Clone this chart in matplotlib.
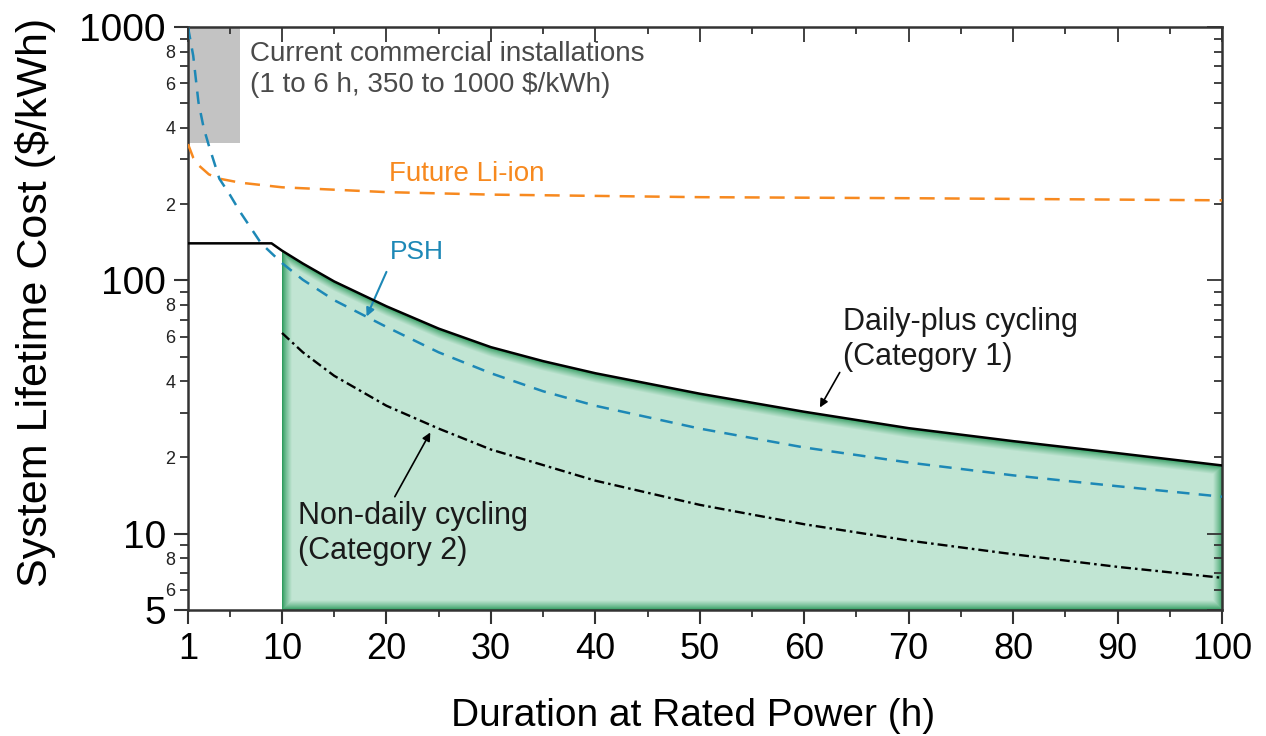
import numpy as np
import matplotlib
matplotlib.use("Agg")
import matplotlib.pyplot as plt
from matplotlib.patches import Polygon, Rectangle

plt.rcParams["font.family"] = ["Liberation Sans", "DejaVu Sans"]

# ---- data
cat1_x = [1, 9, 10, 12, 15, 20, 25, 30, 35, 40, 50, 60, 70, 80, 90, 100]
cat1_y = [140, 140, 131, 116.5, 99, 79, 64.5, 54.5, 48, 43, 35.7, 30.3, 26.1, 23.2, 20.8, 18.6]

psh_x = [1, 1.5, 2, 2.5, 3, 4, 5, 6, 8, 10, 12, 15, 20, 25, 30, 35, 40, 50, 60, 70, 80, 90, 100]
psh_y = [1000, 770, 505, 400, 340, 252, 218, 186, 140, 117, 100.5, 83.5, 65.5, 52, 43, 36.5,
         32, 26, 21.9, 19.1, 17.0, 15.4, 14.0]

liion_x = [1, 1.5, 2, 3, 4, 6, 10, 20, 30, 50, 70, 100]
liion_y = [345, 305, 285, 262, 252, 243, 233, 223, 218, 213, 211, 207]

cat2_x = [10, 12, 15, 20, 25, 30, 40, 50, 60, 70, 80, 90, 100]
cat2_y = [62, 52, 42, 32, 26, 21.5, 16.2, 13.0, 10.9, 9.4, 8.3, 7.4, 6.7]

current_hours = (1, 6)
current_cost = (350, 1000)

x_major = [1, 10, 20, 30, 40, 50, 60, 70, 80, 90, 100]
x_minor = [5, 15, 25, 35, 45, 55, 65, 75, 85, 95]
y_major = [5, 10, 100, 1000]
y_minor = [6, 7, 8, 9, 20, 30, 40, 50, 60, 70, 80, 90, 200, 300, 400, 500, 600, 700, 800, 900]
y_minor_labels = ["6", "", "8", "", "2", "", "4", "", "6", "", "8", "",
                  "2", "", "4", "", "6", "", "8", ""]

BLUE, ORANGE, GREY_TXT = "#1d88b6", "#f7891f", "#4a4a4a"
GREEN_DARK, GREEN_LIGHT = np.array([0.12, 0.58, 0.32]), np.array([0.76, 0.90, 0.83])
SPINE = "#333333"

fig = plt.figure(figsize=(12.66, 7.36), dpi=100)
ax = fig.add_axes([188 / 1266, 1 - 610 / 736, (1222 - 188) / 1266, (610 - 27) / 736])
ax.set_yscale("log")
ax.set_xlim(1, 100)
ax.set_ylim(5, 1000)
ax.set_autoscale_on(False)

# ---- shaded region (x >= 10 under the category-1 curve) with darker feathered edges
fx = [x for x in cat1_x if x >= 10]
fy = [y for x, y in zip(cat1_x, cat1_y) if x >= 10]
verts = [(10, 5)] + list(zip(fx, fy)) + [(100, 5)]
curve_d = ax.transData.transform(list(zip(fx, fy)))
x0, y0 = ax.transData.transform((10, 5))
x1 = ax.transData.transform((100, 5))[0]
y1 = curve_d[:, 1].max()
nx, ny = int(x1 - x0) + 1, int(y1 - y0) + 1
px = x0 + np.arange(nx) + 0.5
py = y0 + np.arange(ny) + 0.5
top = np.interp(px, curve_d[:, 0], curve_d[:, 1])
PX, PY = np.meshgrid(px, py)
d = np.minimum.reduce([PX - x0, x1 - PX, PY - y0, top[None, :] - PY])
t = np.clip(d / 10.0, 0, 1) ** 0.75
rgb = GREEN_DARK + (GREEN_LIGHT - GREEN_DARK) * t[..., None]
inv = ax.transAxes.inverted()
(a0, b0), (a1, b1) = inv.transform([(x0, y0), (x0 + nx, y0 + ny)])
im = ax.imshow(rgb, extent=(a0, a1, b0, b1), transform=ax.transAxes, origin="lower",
               aspect="auto", interpolation="bilinear", zorder=1)
clip = Polygon(verts, closed=True, transform=ax.transData, facecolor="none", edgecolor="none")
ax.add_patch(clip)
im.set_clip_path(clip)

# ---- current commercial installations box
ax.add_patch(Rectangle((current_hours[0], current_cost[0]), current_hours[1] - current_hours[0],
                       current_cost[1] - current_cost[0], facecolor="#c3c3c3",
                       edgecolor="none", zorder=1))

# ---- curves
ax.plot(liion_x, liion_y, color=ORANGE, lw=1.8, dashes=(6, 4), zorder=3)
ax.plot(psh_x, psh_y, color=BLUE, lw=1.8, dashes=(5, 3.7), zorder=3)
ax.plot(cat2_x, cat2_y, color="black", lw=1.7, dashes=(4.2, 1.7, 1.1, 1.7), zorder=3)
ax.plot(cat1_x, cat1_y, color="black", lw=1.8, zorder=4)

# ---- labels and arrows
ax.text(6.9, 682, "Current commercial installations\n(1 to 6 h, 350 to 1000 $/kWh)",
        fontsize=20, color=GREY_TXT, ha="left", va="center", linespacing=1.25)
ax.text(27.7, 262, "Future Li-ion", fontsize=20, color=ORANGE, ha="center", va="center")
ax.text(22.9, 129, "PSH", fontsize=19, color=BLUE, ha="center", va="center")
ax.annotate("", xy=(18.1, 72), xytext=(20.0, 108),
            arrowprops=dict(arrowstyle="-|>", color=BLUE, lw=1.5, mutation_scale=12,
                            shrinkA=0, shrinkB=0))
ax.text(63.7, 58.5, "Daily-plus cycling\n(Category 1)", fontsize=22, color="#1a1a1a",
        ha="left", va="center", linespacing=1.2)
ax.annotate("", xy=(61.5, 31.5), xytext=(63.4, 43.3),
            arrowprops=dict(arrowstyle="-|>", color="black", lw=1.2, mutation_scale=12,
                            shrinkA=0, shrinkB=0))
ax.text(11.5, 10, "Non-daily cycling\n(Category 2)", fontsize=22, color="#1a1a1a",
        ha="left", va="center", linespacing=1.2)
ax.annotate("", xy=(24.2, 25.1), xytext=(20.8, 14.0),
            arrowprops=dict(arrowstyle="-|>", color="black", lw=1.2, mutation_scale=12,
                            shrinkA=0, shrinkB=0))

# ---- axes, ticks
ax.set_xticks(x_major)
ax.set_xticklabels([str(v) for v in x_major], fontsize=26)
ax.set_xticks(x_minor, minor=True)
ax.set_yticks(y_major)
ax.set_yticklabels([str(v) for v in y_major], fontsize=28)
ax.set_yticks(y_minor, minor=True)
ax.set_yticklabels(y_minor_labels, minor=True, fontsize=13, color="#222222")
ax.tick_params(which="major", direction="out", length=10, width=1.5, color=SPINE, pad=6)
ax.tick_params(axis="y", which="minor", direction="out", length=6, width=1.3, color=SPINE, pad=3)
ax.tick_params(axis="x", which="minor", direction="out", length=5, width=1.3, color=SPINE)
for s in ax.spines.values():
    s.set_color(SPINE)
    s.set_linewidth(1.8)

ax.set_xlabel("Duration at Rated Power (h)", fontsize=28, labelpad=22)
ax.xaxis.label.set_x(0.488)
ax.set_ylabel("System Lifetime Cost ($/kWh)", fontsize=31)
ax.yaxis.set_label_coords(-0.128, 0.527)

# inward ticks on top and right
axt = ax.twiny()
axt.set_xlim(1, 100)
axt.set_xticks(x_major)
axt.set_xticks(x_minor, minor=True)
axt.tick_params(which="both", direction="in", labeltop=False, color=SPINE, width=1.3)
axt.tick_params(which="major", length=11)
axt.tick_params(which="minor", length=5)
axr = ax.twinx()
axr.set_yscale("log")
axr.set_ylim(5, 1000)
axr.set_yticks(y_major)
axr.set_yticks(y_minor, minor=True)
axr.tick_params(which="both", direction="in", labelright=False, color=SPINE, width=1.3)
axr.tick_params(which="major", length=11)
axr.tick_params(which="minor", length=6)
for a in (axt, axr):
    for s in a.spines.values():
        s.set_visible(False)

fig.savefig("out.png", dpi=100)
